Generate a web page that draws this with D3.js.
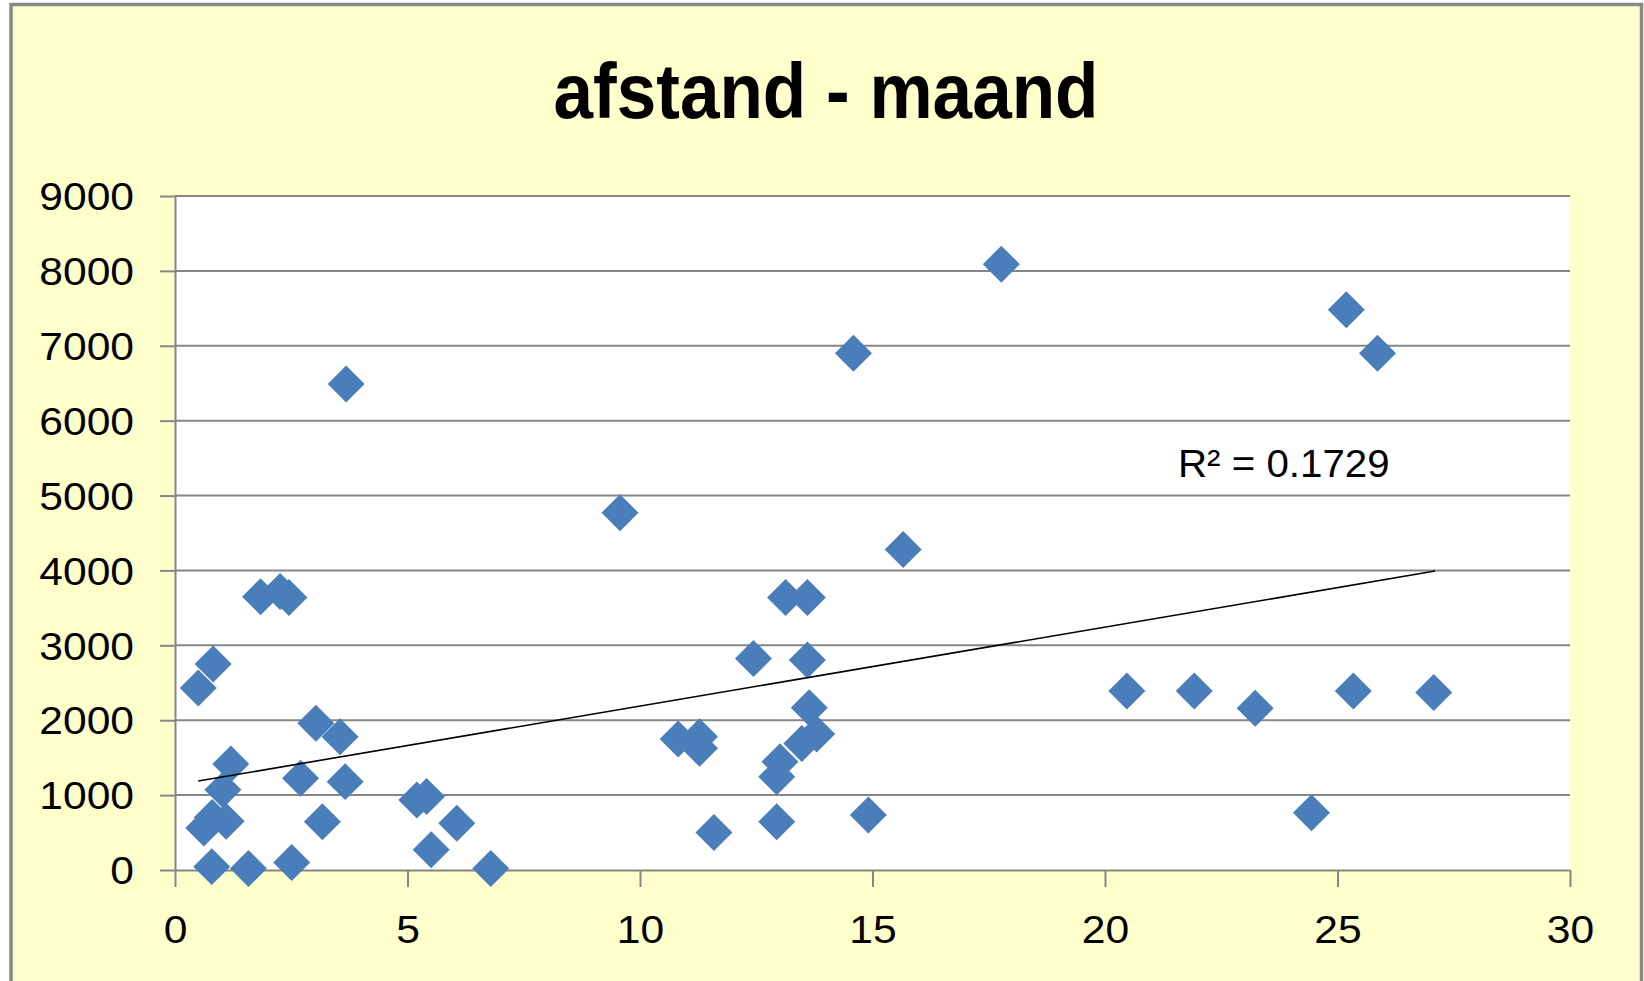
<!DOCTYPE html>
<html>
<head>
<meta charset="utf-8">
<script src="https://cdn.jsdelivr.net/npm/d3@7"></script>
<style>
  html, body { margin: 0; padding: 0; background: #ffffff; }
  svg { display: block; }
</style>
</head>
<body>
<svg id="chart" width="1644" height="981"></svg>
<script>
// ---- data ----
const titleText = "afstand - maand";
const afstand = [3.68, 9.57, 17.77, 14.59, 25.19, 25.86, 15.66, 0.50, 0.82, 1.84,
  2.26, 2.45, 3.03, 3.55, 1.20, 2.70, 3.66, 1.03, 0.62, 0.80,
  1.10, 0.79, 1.58, 2.51, 3.17, 5.20, 5.41, 6.06, 5.51, 6.79,
  10.82, 11.28, 11.28, 11.59, 12.44, 13.13, 13.60, 13.60, 13.64, 13.80,
  13.48, 13.01, 12.94, 12.94, 14.91, 20.47, 21.92, 23.23, 24.44, 25.34, 27.07];
const maand = [6490, 4770, 8090, 6900, 7480, 6900, 4280, 2430, 2750, 3650,
  3720, 3640, 1960, 1780, 1415, 1225, 1180, 1070, 560, 700,
  650, 45, 20, 100, 645, 935, 980, 625, 270, 20,
  1750, 1780, 1625, 500, 2825, 3640, 3640, 2805, 2165, 1815,
  1690, 1445, 1245, 645, 735, 2390, 2390, 2160, 765, 2390, 2370];
const trendX = [0.50, 27.10];
const trendY = [1188, 3992];
const r2Label = "R\u00B2 = 0.1729";
const xTicks = [0, 5, 10, 15, 20, 25, 30];
const yTicks = [0, 1000, 2000, 3000, 4000, 5000, 6000, 7000, 8000, 9000];

// ---- layout ----
const svg = d3.select("#chart");
const plot = { left: 175, right: 1570, top: 196, bottom: 870 };
const gray = "#868686";
const blue = "#4A7EBB";
const font = "'Liberation Sans', Arial, sans-serif";

const x = d3.scaleLinear().domain([0, 30]).range([plot.left, plot.right]);
const y = d3.scaleLinear().domain([0, 9000]).range([plot.bottom, plot.top]);

function widen(sel, k) {
  sel.each(function () {
    const w = this.getComputedTextLength();
    d3.select(this).attr("textLength", w * k).attr("lengthAdjust", "spacingAndGlyphs");
  });
}

// chart background with border
svg.append("rect")
  .attr("x", 11).attr("y", 4.5)
  .attr("width", 1630.5).attr("height", 1100)
  .attr("fill", "#FFFFCC")
  .attr("stroke", "#888888").attr("stroke-width", 3.5);

// title
svg.append("text")
  .attr("x", 826).attr("y", 118)
  .attr("text-anchor", "middle")
  .attr("font-family", font).attr("font-weight", "bold")
  .attr("font-size", 77)
  .attr("textLength", 545).attr("lengthAdjust", "spacingAndGlyphs")
  .attr("fill", "#000")
  .text(titleText);

// plot area
svg.append("rect")
  .attr("x", plot.left).attr("y", plot.top)
  .attr("width", plot.right - plot.left).attr("height", plot.bottom - plot.top)
  .attr("fill", "#ffffff");

// gridlines
svg.append("g").selectAll("line")
  .data(yTicks.filter(d => d > 0))
  .join("line")
  .attr("x1", plot.left).attr("x2", plot.right)
  .attr("y1", d => y(d)).attr("y2", d => y(d))
  .attr("stroke", gray).attr("stroke-width", 2);

// y axis
const yAxis = svg.append("g")
  .attr("transform", `translate(${plot.left},0)`)
  .call(d3.axisLeft(y).tickValues(yTicks).tickSize(15).tickSizeOuter(0).tickFormat(d3.format("d")));
yAxis.select(".domain").attr("stroke", gray).attr("stroke-width", 2);
yAxis.selectAll(".tick line").attr("stroke", gray).attr("stroke-width", 2);
yAxis.selectAll(".tick text")
  .attr("x", -41).attr("dy", "0.36em")
  .attr("font-family", font).attr("font-size", 38).attr("fill", "#000")
  .call(widen, 1.12);

// x axis
const xAxis = svg.append("g")
  .attr("transform", `translate(0,${plot.bottom})`)
  .call(d3.axisBottom(x).tickValues(xTicks).tickSize(17).tickSizeOuter(0).tickFormat(d3.format("d")));
xAxis.select(".domain").attr("stroke", gray).attr("stroke-width", 2);
xAxis.selectAll(".tick line").attr("stroke", gray).attr("stroke-width", 2);
xAxis.selectAll(".tick text")
  .attr("y", 73).attr("dy", 0)
  .attr("font-family", font).attr("font-size", 38).attr("fill", "#000")
  .call(widen, 1.12);

// points (diamonds)
const pts = afstand.map((d, i) => ({ x: d, y: maand[i] }));
const diamond = d3.symbol().type(d3.symbolSquare).size(684);
svg.append("g").selectAll("path")
  .data(pts)
  .join("path")
  .attr("d", diamond)
  .attr("transform", d => `translate(${x(d.x)},${y(d.y)}) rotate(45)`)
  .attr("fill", blue);

// trend line
const trend = trendX.map((d, i) => [d, trendY[i]]);
svg.append("path")
  .datum(trend)
  .attr("d", d3.line().x(d => x(d[0])).y(d => y(d[1])))
  .attr("fill", "none").attr("stroke", "#000").attr("stroke-width", 1.6);

// R² label
svg.append("text")
  .attr("x", 1178).attr("y", 477)
  .attr("font-family", font).attr("font-size", 38).attr("fill", "#000")
  .text(r2Label)
  .call(widen, 1.06);
</script>
</body>
</html>
